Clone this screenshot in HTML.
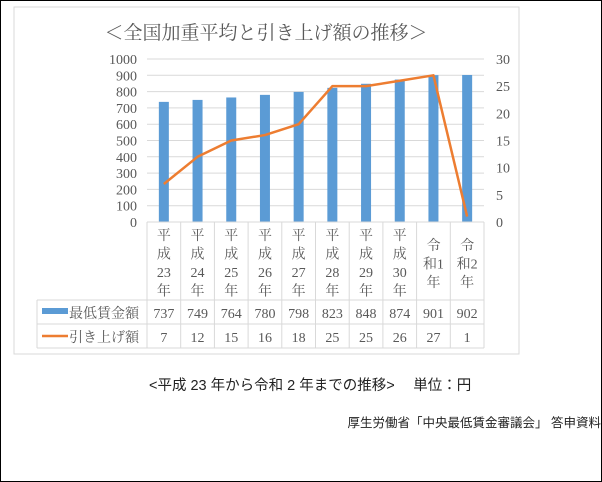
<!DOCTYPE html>
<html><head><meta charset="utf-8"><style>
body{margin:0;background:#fff}
#wrap{position:relative;width:600px;height:480px;border:1px solid #000;overflow:hidden}
svg text{font-family:"Liberation Serif","Noto Serif CJK JP",serif;fill:#595959}
.cap{position:absolute;font-family:"Liberation Sans","Noto Sans CJK JP",sans-serif;color:#222;white-space:nowrap}
</style></head><body>
<div id="wrap">
<svg id="chart" width="602" height="482" style="position:absolute;left:-1px;top:-1px">
<rect x="14" y="7" width="505" height="347" fill="#fff" stroke="#d9d9d9"/>
<text x="266" y="39" font-size="19" text-anchor="middle">＜全国加重平均と引き上げ額の推移＞</text>
<g id="g"></g>
</svg>
<div class="cap" style="left:148px;top:373px;font-size:14.5px">&lt;平成 23 年から令和 2 年までの推移&gt;　 単位：円</div>
<div class="cap" style="right:0px;top:411px;font-size:12.5px">厚生労働省「中央最低賃金審議会」 答申資料</div>
</div>
<script>
const categories=[["平","成","23","年"],["平","成","24","年"],["平","成","25","年"],["平","成","26","年"],["平","成","27","年"],["平","成","28","年"],["平","成","29","年"],["平","成","30","年"],["令","和1","年"],["令","和2","年"]];
const wages=[737,749,764,780,798,823,848,874,901,902];
const raises=[7,12,15,16,18,25,25,26,27,1];
const leftTicks=[0,100,200,300,400,500,600,700,800,900,1000];
const rightTicks=[0,5,10,15,20,25,30];
const NS="http://www.w3.org/2000/svg";
const g=document.getElementById('g');
const X0=147,X1=484,Y0=222,Y1=59,L=37;
const cw=(X1-X0)/categories.length;
const yL=v=>Y0-(v/1000)*(Y0-Y1);
const yR=v=>Y0-(v/30)*(Y0-Y1);
const xc=i=>X0+cw*(i+0.5);
function mk(t,a,txt){const e=document.createElementNS(NS,t);for(const k in a)e.setAttribute(k,a[k]);if(txt!=null)e.textContent=txt;g.appendChild(e);return e;}
leftTicks.forEach(v=>{
 const l=mk('line',{x1:X0,x2:X1,y1:yL(v),y2:yL(v),stroke:'#d9d9d9'});
 
 
 const t=mk('text',{x:137,y:yL(v)+5,'font-size':14,'text-anchor':'end'},v);
 
 
});
rightTicks.forEach(v=>{
 const t=mk('text',{x:496,y:yR(v)+5,'font-size':14},v);
 
 
});
wages.forEach((v,i)=>{
 const r=mk('rect',{x:xc(i)-5,y:yL(v),width:10,height:Y0-yL(v),fill:'#5b9bd5'});
 
 
});
const p=mk('polyline',{points:raises.map((v,i)=>xc(i)+','+yR(v)).join(' '),fill:'none',stroke:'#ed7d31','stroke-width':2.5,'stroke-linejoin':'round'});


const R1=300,R2=324,R3=348;
[[X0,Y0,X1,Y0],[L,R1,X1,R1],[L,R2,X1,R2],[L,R3,X1,R3],[L,R1,L,R3]].forEach(c=>{
 const l=mk('line',{x1:c[0],y1:c[1],x2:c[2],y2:c[3],stroke:'#d9d9d9'});
 
 
});
for(let i=0;i<=categories.length;i++){
 const l=mk('line',{x1:X0+cw*i,y1:Y0,x2:X0+cw*i,y2:R3,stroke:'#d9d9d9'});
 
 
}
categories.forEach((c,i)=>{
 const top=c.length===4?240:250;
 c.forEach((s,j)=>{
  const t=mk('text',{x:xc(i),y:top+j*18.5,'font-size':14,'text-anchor':'middle'},s);
  
  
 });
 const a=mk('text',{x:xc(i),y:318,'font-size':14,'text-anchor':'middle'},wages[i]);
 
 
 const b=mk('text',{x:xc(i),y:342,'font-size':14,'text-anchor':'middle'},raises[i]);
 
 
});
const k1=mk('rect',{x:42,y:308,width:26,height:6,fill:'#5b9bd5'});


const t1=mk('text',{x:69,y:318,'font-size':14},'最低賃金額');


const k2=mk('line',{x1:42,x2:68,y1:336,y2:336,stroke:'#ed7d31','stroke-width':2.5});


const t2=mk('text',{x:69,y:342,'font-size':14},'引き上げ額');


</script>
</body></html>
